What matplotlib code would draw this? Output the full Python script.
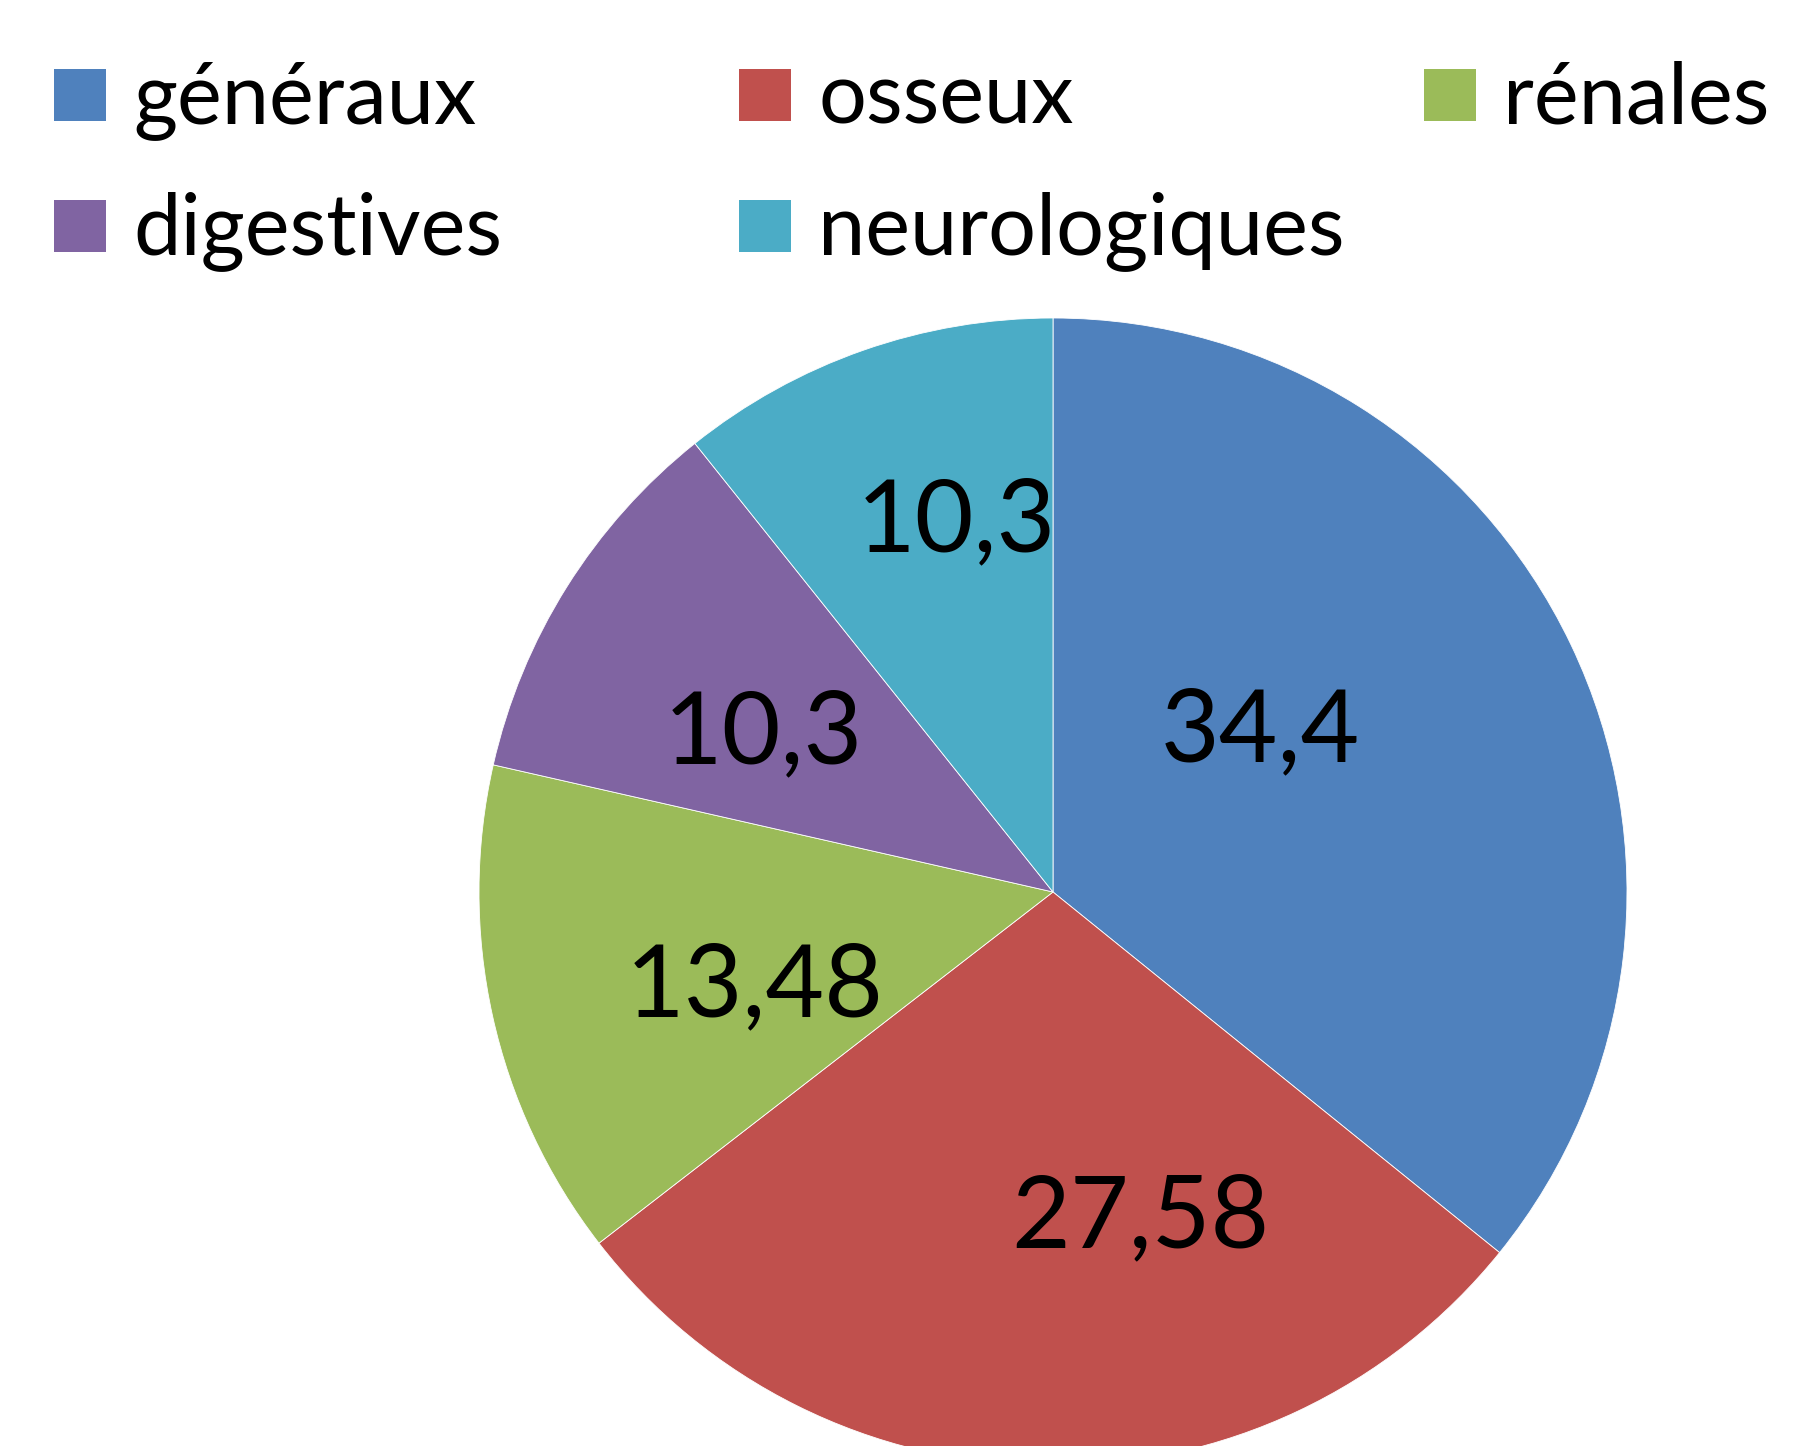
import numpy as np
import matplotlib.pyplot as plt
from matplotlib.patches import Rectangle

plt.rcParams['font.family'] = ['Lato', 'DejaVu Sans']

categories = ['généraux', 'osseux', 'rénales', 'digestives', 'neurologiques']
values = [34.4, 27.58, 13.48, 10.3, 10.3]
value_labels = ['34,4', '27,58', '13,48', '10,3', '10,3']
colors = ['#4F81BD', '#C0504D', '#9BBB59', '#8064A2', '#4BACC6']

W, H = 1797, 1446
fig = plt.figure(figsize=(W / 100, H / 100), dpi=100)

# pie centre and radius in pixels (from top-left)
cx, cy, R = 1053, 892, 574
ax = fig.add_axes([(cx - R) / W, (H - cy - R) / H, 2 * R / W, 2 * R / H])
wedges, _ = ax.pie(values, colors=colors, startangle=90, counterclock=False,
                   radius=1, wedgeprops=dict(edgecolor='white', linewidth=0.6))
ax.set_xlim(-1, 1)
ax.set_ylim(-1, 1)
ax.set_aspect('auto')
ax.axis('off')

# label placement (radius fraction, angle in degrees)
label_pos = [(0.455, 37.5), (0.59, -75.0), (0.545, 197.8), (0.575, 151.5), (0.665, 104.7)]
for txt, (r, a) in zip(value_labels, label_pos):
    t = np.deg2rad(a)
    ax.text(r * np.cos(t), r * np.sin(t), txt, ha='center', va='center',
            fontsize=73, color='black')

# legend drawn by hand: 3 columns, 2 rows
for i, (lab, col) in enumerate(zip(categories, colors)):
    c, rw = i % 3, i // 3
    x0 = 54 + c * 685
    ytop = 69 + rw * 131
    fig.patches.append(Rectangle((x0 / W, 1 - (ytop + 52) / H), 52 / W, 52 / H,
                                 transform=fig.transFigure, facecolor=col,
                                 edgecolor='none'))
    fig.text((x0 + 79) / W, 1 - (ytop + 54) / H, lab, ha='left', va='baseline',
             fontsize=61, color='black')

fig.savefig('out.png', dpi=100)
